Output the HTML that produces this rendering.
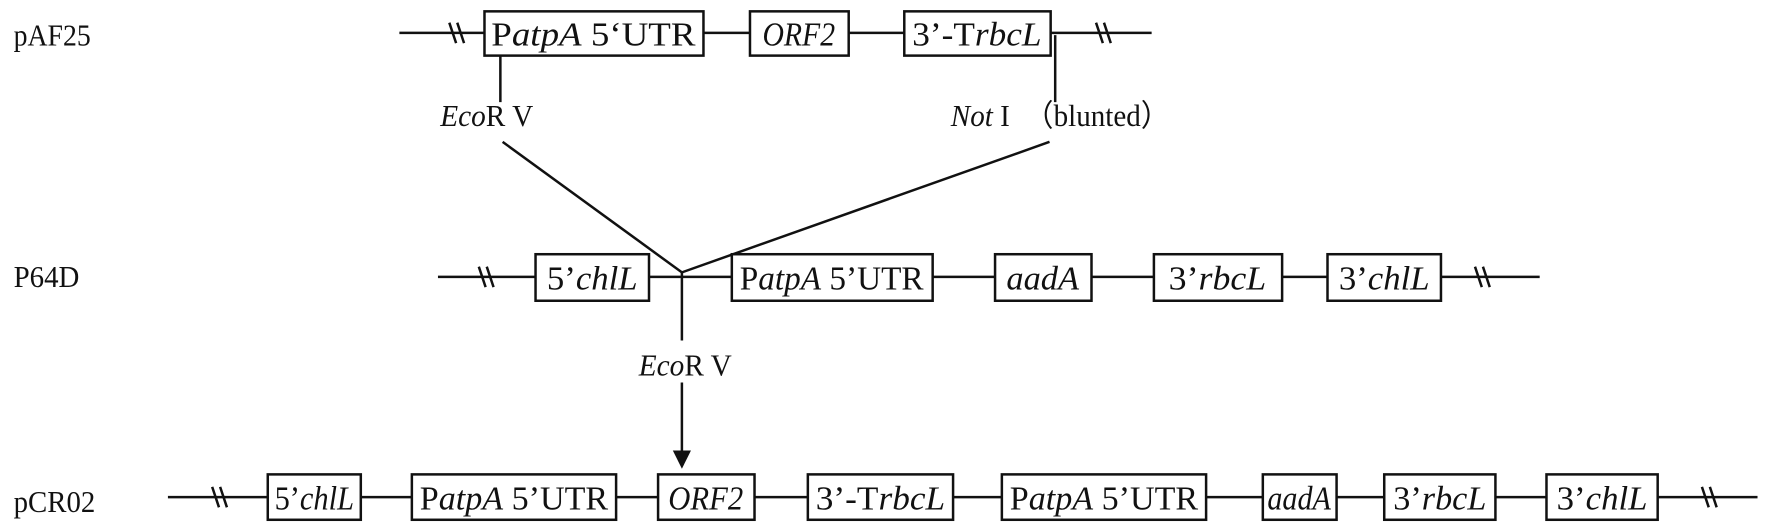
<!DOCTYPE html>
<html><head><meta charset="utf-8"><style>
html,body{margin:0;padding:0;background:#fff;width:1770px;height:530px;overflow:hidden}
svg{display:block}
text{font-family:"Liberation Serif",serif;fill:#111}
</style></head><body>
<svg width="1770" height="530" viewBox="0 0 1560 467" preserveAspectRatio="none" xmlns="http://www.w3.org/2000/svg">
<g stroke="#111" stroke-width="2.2" fill="none">
<line x1="352" y1="29" x2="1015" y2="29"/>
<path d="M396 20 L402 38 M403 20 L409 38"/>
<path d="M966 20 L972 38 M973 20 L979 38"/>
<line x1="441" y1="31" x2="441" y2="90"/>
<line x1="930" y1="31" x2="930" y2="90"/>
<line x1="443" y1="125" x2="601" y2="240"/>
<line x1="925" y1="125" x2="601" y2="240"/>
<line x1="386" y1="244" x2="1357" y2="244"/>
<path d="M422 235 L428 253 M429 235 L435 253"/>
<path d="M1300 235 L1306 253 M1307 235 L1313 253"/>
<line x1="601" y1="240" x2="601" y2="300"/>
<line x1="601" y1="337" x2="601" y2="398"/>
<line x1="148" y1="438" x2="1549" y2="438"/>
<path d="M187 429 L193 447 M194 429 L200 447"/>
<path d="M1500 429 L1506 447 M1507 429 L1513 447"/>
</g>
<polygon points="593,397 609,397 601,413" fill="#111"/>
<g stroke="#111" stroke-width="2.2" fill="#fff">
<rect x="427" y="10" width="193" height="39"/>
<rect x="661" y="10" width="87" height="39"/>
<rect x="797" y="10" width="129" height="39"/>
<rect x="472" y="224" width="100" height="41"/>
<rect x="645" y="224" width="177" height="41"/>
<rect x="877" y="224" width="85" height="41"/>
<rect x="1017" y="224" width="113" height="41"/>
<rect x="1170" y="224" width="100" height="41"/>
<rect x="236" y="418" width="82" height="40"/>
<rect x="363" y="418" width="180" height="40"/>
<rect x="580" y="418" width="85" height="40"/>
<rect x="712" y="418" width="128" height="40"/>
<rect x="883" y="418" width="180" height="40"/>
<rect x="1113" y="418" width="65" height="40"/>
<rect x="1220" y="418" width="98" height="40"/>
<rect x="1363" y="418" width="98" height="40"/>
</g>
<g font-size="27">
<text x="12" y="40" textLength="68" lengthAdjust="spacingAndGlyphs">pAF25</text>
<text x="12" y="253" textLength="58" lengthAdjust="spacingAndGlyphs">P64D</text>
<text x="12" y="451" textLength="72" lengthAdjust="spacingAndGlyphs">pCR02</text>
<text x="388" y="111" textLength="82" lengthAdjust="spacingAndGlyphs"><tspan font-style="italic">Eco</tspan>R V</text>
<text x="838" y="111" textLength="52" lengthAdjust="spacingAndGlyphs"><tspan font-style="italic">Not</tspan> I</text>
<text x="903" y="111" textLength="128" lengthAdjust="spacingAndGlyphs">（blunted）</text>
<text x="563" y="331" textLength="82" lengthAdjust="spacingAndGlyphs"><tspan font-style="italic">Eco</tspan>R V</text>
</g>
<g font-size="30" text-anchor="middle">
<text x="523" y="40" textLength="180" lengthAdjust="spacingAndGlyphs">P<tspan font-style="italic">atpA</tspan> 5‘UTR</text>
<text x="704" y="40" textLength="64" lengthAdjust="spacingAndGlyphs" font-style="italic">ORF2</text>
<text x="861" y="40" textLength="114" lengthAdjust="spacingAndGlyphs">3’-T<tspan font-style="italic">rbcL</tspan></text>
<text x="522" y="255" textLength="80" lengthAdjust="spacingAndGlyphs">5’<tspan font-style="italic">chlL</tspan></text>
<text x="733" y="255" textLength="162" lengthAdjust="spacingAndGlyphs">P<tspan font-style="italic">atpA</tspan> 5’UTR</text>
<text x="919" y="255" textLength="64" lengthAdjust="spacingAndGlyphs" font-style="italic">aadA</text>
<text x="1073" y="255" textLength="86" lengthAdjust="spacingAndGlyphs">3’<tspan font-style="italic">rbcL</tspan></text>
<text x="1220" y="255" textLength="80" lengthAdjust="spacingAndGlyphs">3’<tspan font-style="italic">chlL</tspan></text>
<text x="277" y="449" textLength="70" lengthAdjust="spacingAndGlyphs">5’<tspan font-style="italic">chlL</tspan></text>
<text x="453" y="449" textLength="166" lengthAdjust="spacingAndGlyphs">P<tspan font-style="italic">atpA</tspan> 5’UTR</text>
<text x="622" y="449" textLength="66" lengthAdjust="spacingAndGlyphs" font-style="italic">ORF2</text>
<text x="776" y="449" textLength="114" lengthAdjust="spacingAndGlyphs">3’-T<tspan font-style="italic">rbcL</tspan></text>
<text x="973" y="449" textLength="166" lengthAdjust="spacingAndGlyphs">P<tspan font-style="italic">atpA</tspan> 5’UTR</text>
<text x="1145" y="449" textLength="56" lengthAdjust="spacingAndGlyphs" font-style="italic">aadA</text>
<text x="1269" y="449" textLength="82" lengthAdjust="spacingAndGlyphs">3’<tspan font-style="italic">rbcL</tspan></text>
<text x="1412" y="449" textLength="80" lengthAdjust="spacingAndGlyphs">3’<tspan font-style="italic">chlL</tspan></text>
</g>
</svg>
</body></html>
